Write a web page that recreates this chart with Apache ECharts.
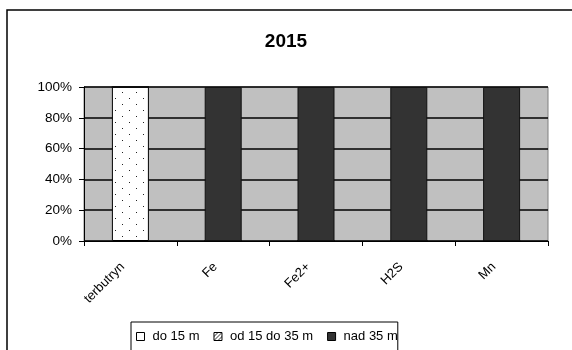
<!DOCTYPE html>
<html>
<head>
<meta charset="utf-8">
<script src="https://cdn.jsdelivr.net/npm/echarts@6/dist/echarts.min.js"></script>
<style>
html, body { margin: 0; padding: 0; background: #fff; }
#chart { width: 572px; height: 350px; }
</style>
</head>
<body>
<div id="chart"></div>
<script>
var categories = ['terbutryn', 'Fe', 'Fe2+', 'H2S', 'Mn'];
var seriesNames = ['do 15 m', 'od 15 do 35 m', 'nad 35 m'];
var do15 = [100, 0, 0, 0, 0];
var od15do35 = [0, 0, 0, 0, 0];
var nad35 = [0, 100, 100, 100, 100];
var yTicks = [0, 20, 40, 60, 80, 100];

// dotted fill like the old excel pattern
function dotPattern() {
    var c = document.createElement('canvas');
    c.width = 14; c.height = 12;
    var g = c.getContext('2d');
    g.fillStyle = '#fff';
    g.fillRect(0, 0, 14, 12);
    g.fillStyle = '#222';
    g.fillRect(3, 2, 1, 1);
    g.fillRect(10, 8, 1, 1);
    return c;
}
function hatchPattern() {
    var c = document.createElement('canvas');
    c.width = 4; c.height = 4;
    var g = c.getContext('2d');
    g.fillStyle = '#fff';
    g.fillRect(0, 0, 4, 4);
    g.fillStyle = '#333';
    g.fillRect(0, 3, 1, 1); g.fillRect(1, 2, 1, 1); g.fillRect(2, 1, 1, 1); g.fillRect(3, 0, 1, 1);
    return c;
}

var myChart = echarts.init(document.getElementById('chart'));

var option = {
    animation: false,
    title: {
        text: '2015',
        left: 'center',
        top: 27,
        textStyle: { fontFamily: 'Arial', fontSize: 19, fontWeight: 'bold', color: '#000' }
    },
    graphic: [{
        type: 'rect',
        shape: { x: 7, y: 10, width: 580, height: 360 },
        style: { fill: 'none', stroke: '#000', lineWidth: 1.5 },
        silent: true
    }],
    legend: {
        left: 131,
        top: 322,
        padding: [8, 0, 8, 5],
        itemWidth: 8,
        itemHeight: 8,
        itemGap: 14,
        borderColor: '#000',
        borderWidth: 1,
        textStyle: { fontFamily: 'Arial', fontSize: 13, color: '#000', padding: [0, 0, 0, 3] },
        data: [
            { name: seriesNames[0], icon: 'rect', itemStyle: { color: '#fff', borderColor: '#000', borderWidth: 1 } },
            { name: seriesNames[1], icon: 'rect', itemStyle: { color: { image: hatchPattern(), repeat: 'repeat' }, borderColor: '#000', borderWidth: 1 } },
            { name: seriesNames[2], icon: 'rect', itemStyle: { color: '#333', borderColor: '#000', borderWidth: 1 } }
        ]
    },
    grid: {
        left: 84,
        right: 24,
        top: 87,
        bottom: 109,
        show: true,
        backgroundColor: '#c0c0c0',
        borderColor: '#808080',
        borderWidth: 1
    },
    xAxis: {
        type: 'category',
        data: categories,
        axisLine: { lineStyle: { color: '#000', width: 1 } },
        axisTick: { show: true, alignWithLabel: false, length: 5, lineStyle: { color: '#000' } },
        axisLabel: { rotate: 45, margin: 16, padding: [0, 11, 7, 0], fontFamily: 'Arial', fontSize: 13, color: '#000' }
    },
    yAxis: {
        type: 'value',
        min: 0,
        max: 100,
        interval: 20,
        axisLine: { show: true, lineStyle: { color: '#000', width: 1 } },
        axisTick: { show: true, inside: false, length: 5, lineStyle: { color: '#000' } },
        axisLabel: {
            margin: 12, fontFamily: 'Arial', fontSize: 13.5, color: '#000',
            formatter: function (v) { return yTicks.indexOf(v) >= 0 ? v + '%' : ''; }
        },
        splitLine: { show: true, lineStyle: { color: '#000', width: 1.5 } }
    },
    series: [
        {
            name: seriesNames[0], type: 'bar', stack: 'a', barWidth: 37, data: do15,
            itemStyle: { color: { image: dotPattern(), repeat: 'repeat' }, borderColor: '#000', borderWidth: 1 }
        },
        {
            name: seriesNames[1], type: 'bar', stack: 'a', barWidth: 37, data: od15do35,
            itemStyle: { color: { image: hatchPattern(), repeat: 'repeat' }, borderColor: '#000', borderWidth: 1 }
        },
        {
            name: seriesNames[2], type: 'bar', stack: 'a', barWidth: 37, data: nad35,
            itemStyle: { color: '#333333', borderColor: '#111', borderWidth: 1 }
        }
    ]
};

myChart.setOption(option);
</script>
</body>
</html>
